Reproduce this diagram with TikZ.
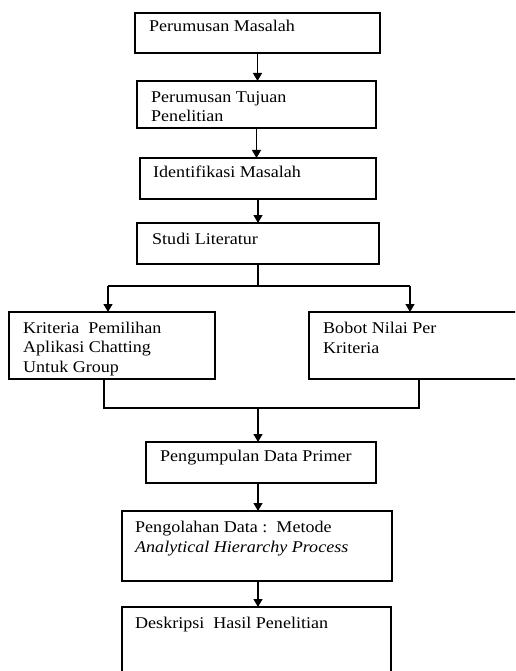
\documentclass[tikz,border=0pt]{standalone}
\usepackage{fontspec}
\setmainfont{Liberation Serif}[FakeStretch=1.10]
\usetikzlibrary{arrows.meta}
\tikzset{
  box/.style={draw, line width=1.2pt, inner sep=0pt, outer sep=0pt},
  lbl/.style={anchor=base west, inner sep=0pt, align=left, font=\fontsize{16.4}{19.5}\selectfont},
  conn/.style={line width=1.2pt},
  arr/.style={line width=1.2pt, -{Triangle[width=9pt,length=8pt]}}
}
\begin{document}
\begin{tikzpicture}[x=1pt,y=-1pt]
\useasboundingbox (0,0) rectangle (515,671);
\clip (0,0) rectangle (515,671);
\fill[white] (0,0) rectangle (515,671);
% boxes
\node[box, minimum width=245pt, minimum height=40pt] (b1) at (257.5,33) {};
\node[box, minimum width=239pt, minimum height=47pt] (b2) at (256.5,104.5) {};
\node[box, minimum width=236pt, minimum height=41pt] (b3) at (258,178.5) {};
\node[box, minimum width=242pt, minimum height=41pt] (b4) at (258,243.5) {};
\node[box, minimum width=206pt, minimum height=67pt] (bl) at (112,345.5) {};
\node[box, minimum width=251pt, minimum height=67pt] (br) at (434.5,345.5) {};
\node[box, minimum width=230pt, minimum height=41pt] (b5) at (261,462.5) {};
\node[box, minimum width=270pt, minimum height=70pt] (b6) at (257,546) {};
\node[box, minimum width=269pt, minimum height=113pt] (b7) at (256.5,663.5) {};
% labels (anchor = baseline of the last line)
\node[lbl] (t1) at (149,32) {Perumusan Masalah};
\node[lbl] (t2) at (151,122) {Perumusan Tujuan\\Penelitian};
\node[lbl] (t3) at (153,178) {Identifikasi Masalah};
\node[lbl] (t4) at (152,244) {Studi Literatur};
\node[lbl] (tl) at (23,372) {Kriteria\ \ Pemilihan\\Aplikasi Chatting\\Untuk Group};
\node[lbl] (tr) at (323,353) {Bobot Nilai Per\\Kriteria};
\node[lbl] (t5) at (160,461) {Pengumpulan Data Primer};
\node[lbl] (t6) at (135,552) {Pengolahan Data :\ \ Metode\\\textit{Analytical Hierarchy Process}};
\node[lbl] (t7) at (135,628) {Deskripsi\ \ Hasil Penelitian};
% connectors
\draw[arr] (b1.south) -- (b1.south |- b2.north);
\draw[arr] (b2.south) -- (b2.south |- b3.north);
\draw[arr] (b3.south) -- (b3.south |- b4.north);
\coordinate (j) at (258,286);
\coordinate (jl) at (108,286);
\coordinate (jr) at (410,286);
\draw[conn] (b4.south) -- (j);
\draw[conn] (jl) -- (jr);
\draw[arr] (jl) -- (jl |- bl.north);
\draw[arr] (jr) -- (jr |- br.north);
\coordinate (kl) at (104,408);
\coordinate (kr) at (419,408);
\coordinate (km) at (258,408);
\draw[conn] (bl.south -| kl) -- (kl) -- (kr) -- (br.south -| kr);
\draw[arr] (km) -- (km |- b5.north);
\coordinate (m6) at (258,0);
\draw[arr] (b5.south -| m6) -- (b6.north -| m6);
\draw[arr] (b6.south -| m6) -- (b7.north -| m6);
\end{tikzpicture}
\end{document}
